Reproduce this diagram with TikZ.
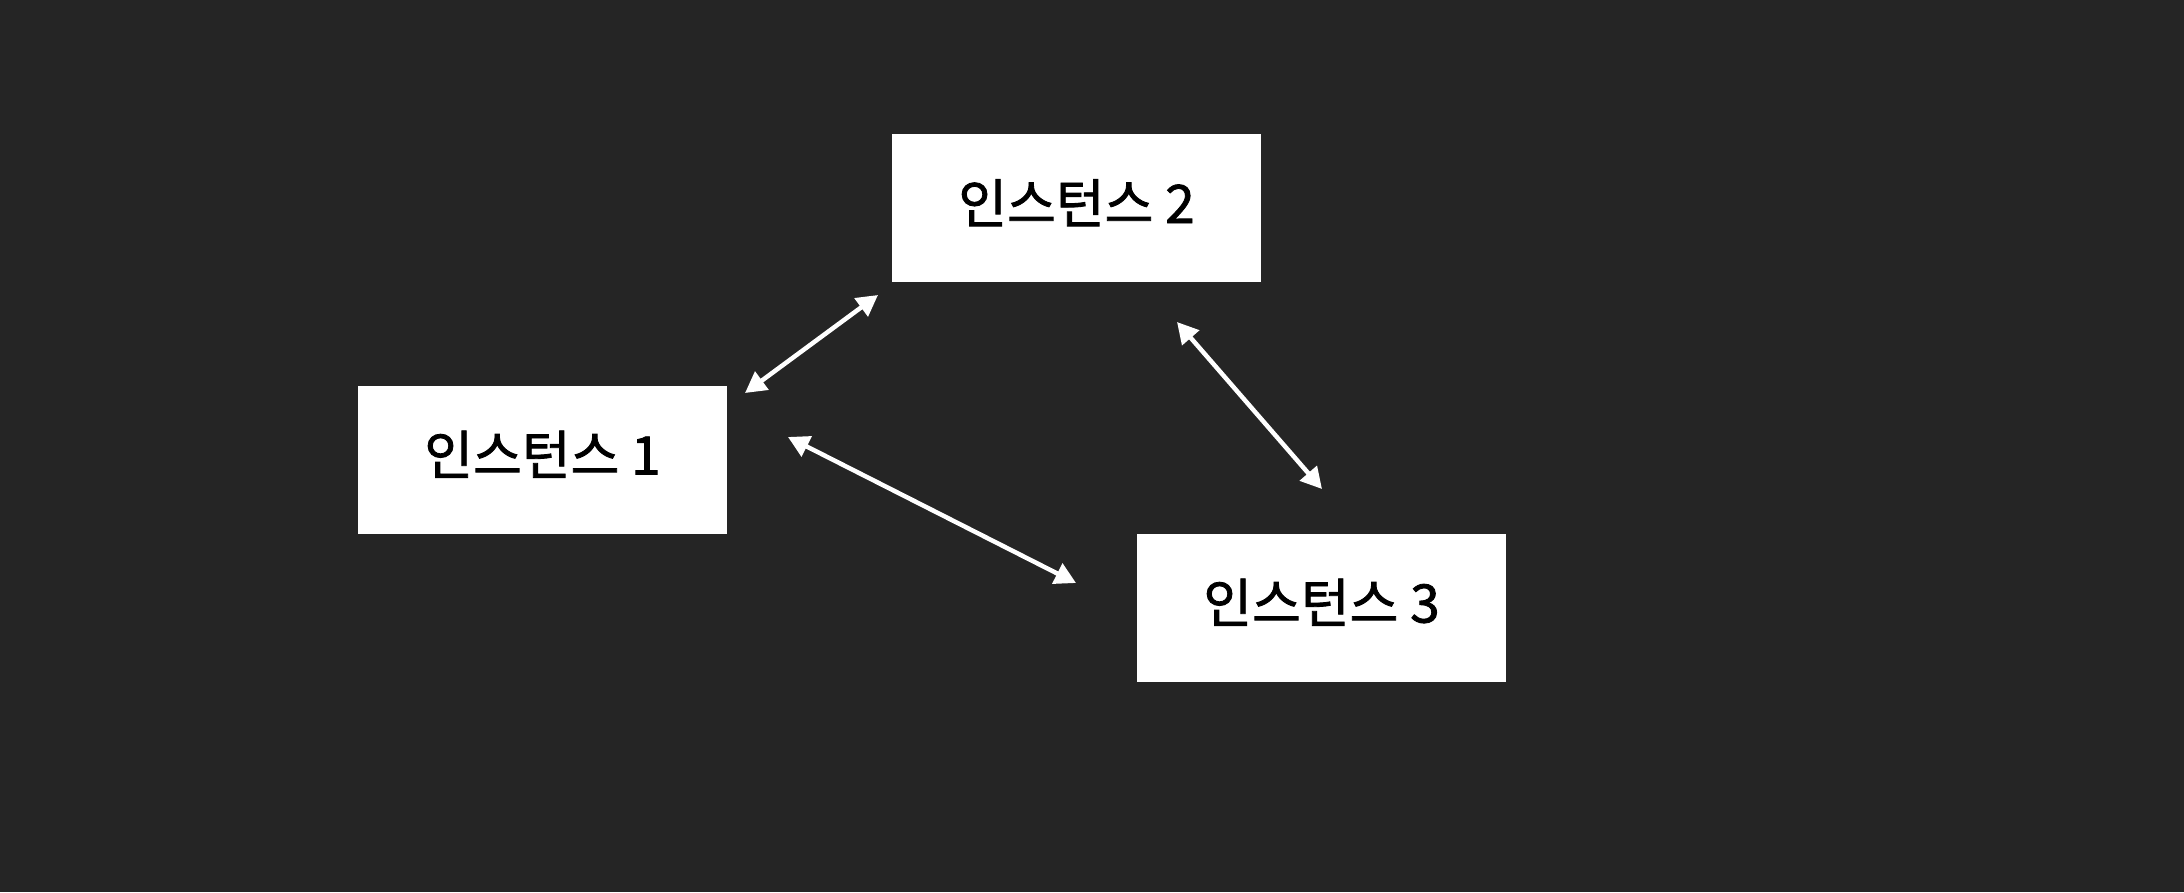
\documentclass[tikz,border=0pt]{standalone}
\usepackage{fontspec}
\newfontfamily\kr[FakeBold=1.6]{Noto Sans CJK KR}
\usetikzlibrary{arrows.meta}
\definecolor{bg}{HTML}{252525}
\newcommand{\lift}[1]{\raisebox{-15pt}[0pt][0pt]{#1}}
\tikzset{
  inst/.style={fill=white, draw=none, minimum width=369pt, minimum height=148pt, inner sep=0pt, font=\kr\fontsize{53}{60}\selectfont, text=black},
  link/.style={draw=white, line width=4.5pt, {Triangle[width=22pt,length=21pt]}-{Triangle[width=22pt,length=21pt]}}
}
\begin{document}
\begin{tikzpicture}[x=1pt,y=-1pt]
\fill[bg] (0,0) rectangle (2184,892);
\useasboundingbox (0,0) rectangle (2184,892);
\node[inst] (i1) at (542.5,459.5) {\lift{인스턴스 1}};
\node[inst] (i2) at (1076.5,208) {\lift{인스턴스 2}};
\node[inst] (i3) at (1321.5,607.5) {\lift{인스턴스 3}};
\coordinate (a1) at (745,393);
\coordinate (a2) at (878,295);
\coordinate (b1) at (788,437);
\coordinate (b2) at (1076,583);
\coordinate (c1) at (1177,322);
\coordinate (c2) at (1322,489);
\draw[link] (a1) -- (a2);
\draw[link] (b1) -- (b2);
\draw[link] (c1) -- (c2);
\end{tikzpicture}
\end{document}
